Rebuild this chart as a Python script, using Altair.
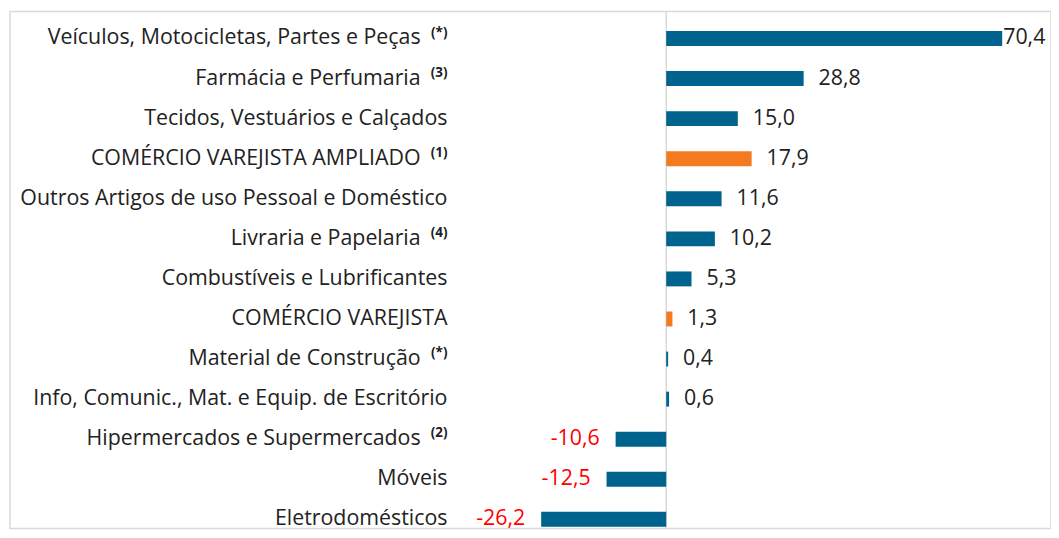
import altair as alt
import pandas as pd

categories = [
    "Veículos, Motocicletas, Partes e Peças",
    "Farmácia e Perfumaria",
    "Tecidos, Vestuários e Calçados",
    "COMÉRCIO VAREJISTA AMPLIADO",
    "Outros Artigos de uso Pessoal e Doméstico",
    "Livraria e Papelaria",
    "Combustíveis e Lubrificantes",
    "COMÉRCIO VAREJISTA",
    "Material de Construção",
    "Info, Comunic., Mat. e Equip. de Escritório",
    "Hipermercados e Supermercados",
    "Móveis",
    "Eletrodomésticos",
]
notes = ["(*)", "(3)", "", "(1)", "", "(4)", "", "", "(*)", "", "(2)", "", ""]
values = [70.4, 28.8, 15.0, 17.9, 11.6, 10.2, 5.3, 1.3, 0.4, 0.6, -10.6, -12.5, -26.2]
kinds = ["setor", "setor", "setor", "total", "setor", "setor", "setor",
         "total", "setor", "setor", "setor", "setor", "setor"]

df = pd.DataFrame({
    "cat": categories,
    "note": notes,
    "v": values,
    "kind": kinds,
    "idx": list(range(len(categories))),
    "z": [0.0] * len(categories),
    "lbl": [f"{v:.1f}".replace(".", ",") for v in values],
})
df_plain = df[df["note"] == ""]
df_noted = df[df["note"] != ""]
df_pos = df[(df["v"] >= 0) & (df["v"] < 60)]
df_big = df[df["v"] >= 60]
df_neg = df[df["v"] < 0]
df_zero = pd.DataFrame({"z": [0.0]})

FONT = "Open Sans"
FS = 21.5
W, H = 1047, 520

xscale = alt.Scale(domain=[-137.5, 80.625], nice=False, zero=False)
yscale = alt.Scale(domain=[-0.674, 12.229], nice=False, zero=False, reverse=True)
Y = alt.Y("idx:Q", scale=yscale, axis=None)
XV = alt.X("v:Q", scale=xscale, axis=None)

bars = alt.Chart(df).mark_rule(strokeWidth=15).encode(
    x=XV,
    x2=alt.X2("z"),
    y=Y,
    color=alt.Color("kind:N", scale=alt.Scale(domain=["setor", "total"],
                                              range=["#00638D", "#F47A20"]), legend=None),
)

zero_line = alt.Chart(df_zero).mark_rule(color="#D9D9D9", strokeWidth=1.5).encode(
    x=alt.X("z:Q", scale=xscale, axis=None)
)

lab_plain = alt.Chart(df_plain).mark_text(
    align="right", baseline="middle", font=FONT, fontSize=FS, color="#222222"
).encode(x=alt.value(440), y=Y, text="cat:N")

lab_noted = alt.Chart(df_noted).mark_text(
    align="right", baseline="middle", font=FONT, fontSize=FS, color="#222222"
).encode(x=alt.value(413), y=Y, text="cat:N")

lab_sup = alt.Chart(df_noted).mark_text(
    align="right", baseline="middle", font=FONT, fontSize=13.5, fontWeight="bold",
    color="#222222", dy=-6
).encode(x=alt.value(440), y=Y, text="note:N")

val_pos = alt.Chart(df_pos).mark_text(
    align="left", baseline="middle", font=FONT, fontSize=FS, color="#222222", dx=15
).encode(x=XV, y=Y, text="lbl:N")

val_big = alt.Chart(df_big).mark_text(
    align="left", baseline="middle", font=FONT, fontSize=FS, color="#222222", dx=1
).encode(x=XV, y=Y, text="lbl:N")

val_neg = alt.Chart(df_neg).mark_text(
    align="right", baseline="middle", font=FONT, fontSize=FS, color="#FF0000", dx=-16
).encode(x=XV, y=Y, text="lbl:N")

chart = alt.layer(
    zero_line, bars,
    lab_plain, lab_noted, lab_sup, val_pos, val_big, val_neg
).properties(
    width=W, height=H,
    autosize=alt.AutoSizeParams(type="none"),
    padding={"left": 2, "top": 2, "right": 0, "bottom": 0},
).configure_view(stroke="#D9D9D9", strokeWidth=1.5)

chart.save("out.html", embed_options={"renderer": "svg", "actions": False})
